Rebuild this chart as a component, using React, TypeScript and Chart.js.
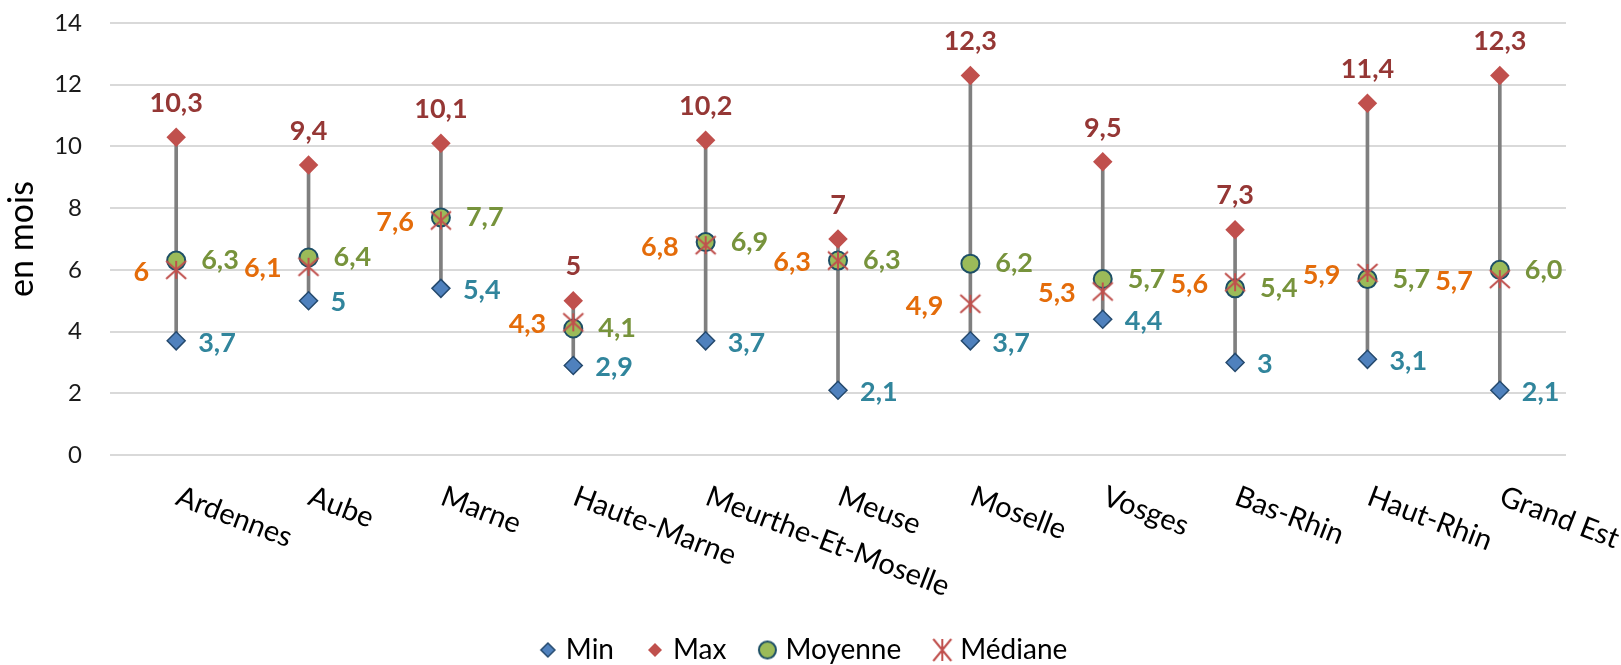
import React, { useEffect, useRef } from 'react';
import { Chart, registerables } from 'chart.js';

Chart.register(...registerables);

const categories = ['Ardennes', 'Aube', 'Marne', 'Haute-Marne', 'Meurthe-Et-Moselle', 'Meuse', 'Moselle', 'Vosges', 'Bas-Rhin', 'Haut-Rhin', 'Grand Est'];
const minValues = [3.7, 5, 5.4, 2.9, 3.7, 2.1, 3.7, 4.4, 3, 3.1, 2.1];
const maxValues = [10.3, 9.4, 10.1, 5, 10.2, 7, 12.3, 9.5, 7.3, 11.4, 12.3];
const meanValues = [6.3, 6.4, 7.7, 4.1, 6.9, 6.3, 6.2, 5.7, 5.4, 5.7, 6.0];
const medianValues = [6, 6.1, 7.6, 4.3, 6.8, 6.3, 4.9, 5.3, 5.6, 5.9, 5.7];
const seriesNames = ['Min', 'Max', 'Moyenne', 'Médiane'];
const yMin = 0;
const yMax = 14;
const yStep = 2;
const yTitle = 'en mois';

const FONT = "Lato, 'DejaVu Sans', sans-serif";

const fmtGeneral = (v: number) => String(v).replace('.', ',');
const fmtFixed = (v: number) => v.toFixed(1).replace('.', ',');

function makeCanvas(w: number, h: number) {
  const c = document.createElement('canvas');
  c.width = w;
  c.height = h;
  return c;
}

function makeStar(hw: number, hh: number, lw: number, color: string) {
  const w = Math.ceil(2 * hw + lw + 2);
  const h = Math.ceil(2 * hh + lw + 2);
  const c = makeCanvas(w, h);
  const g = c.getContext('2d')!;
  g.strokeStyle = color;
  g.lineWidth = lw;
  g.translate(w / 2, h / 2);
  g.beginPath();
  g.moveTo(-hw, -hh);
  g.lineTo(hw, hh);
  g.moveTo(hw, -hh);
  g.lineTo(-hw, hh);
  g.moveTo(0, -hh);
  g.lineTo(0, hh);
  g.stroke();
  return c;
}

function makeDiamond(half: number, fill: string, stroke: string, lw: number) {
  const s = Math.ceil(2 * half + lw + 2);
  const c = makeCanvas(s, s);
  const g = c.getContext('2d')!;
  g.translate(s / 2, s / 2);
  g.beginPath();
  g.moveTo(0, -half);
  g.lineTo(half, 0);
  g.lineTo(0, half);
  g.lineTo(-half, 0);
  g.closePath();
  g.fillStyle = fill;
  g.fill();
  if (lw > 0) {
    g.strokeStyle = stroke;
    g.lineWidth = lw;
    g.stroke();
  }
  return c;
}

function makeCircle(r: number, fill: string, stroke: string, lw: number) {
  const s = Math.ceil(2 * r + lw + 2);
  const c = makeCanvas(s, s);
  const g = c.getContext('2d')!;
  g.translate(s / 2, s / 2);
  g.beginPath();
  g.arc(0, 0, r, 0, Math.PI * 2);
  g.fillStyle = fill;
  g.fill();
  g.strokeStyle = stroke;
  g.lineWidth = lw;
  g.stroke();
  return c;
}

const MIN_FILL = '#4F81BD';
const MIN_BORDER = '#254A6E';
const MAX_FILL = '#C0504D';
const MEAN_FILL = '#9BBB59';
const MEAN_BORDER = '#1D4F66';
const MED_COLOR = '#C0504D';

export default function App() {
  const canvasRef = useRef<HTMLCanvasElement | null>(null);

  useEffect(() => {
    if (!canvasRef.current) return;

    const medianPoint = makeStar(10, 9, 2, MED_COLOR);
    const legendIcons: Record<number, HTMLCanvasElement> = {
      1: makeDiamond(7, MIN_FILL, MIN_BORDER, 1.5),
      2: makeDiamond(7, MAX_FILL, MAX_FILL, 0),
      3: makeCircle(8.5, MEAN_FILL, MEAN_BORDER, 2),
      4: makeStar(9, 11, 2, MED_COLOR),
    };

    const labelSpecs: Record<number, { color: string; align: CanvasTextAlign; dx: number; dy: number; fmt: (v: number) => string }> = {
      1: { color: '#31859C', align: 'left', dx: 22, dy: 2, fmt: fmtGeneral },
      2: { color: '#953735', align: 'center', dx: 0, dy: -34, fmt: fmtGeneral },
      3: { color: '#77933C', align: 'left', dx: 25, dy: 0, fmt: fmtFixed },
      4: { color: '#E46C0A', align: 'right', dx: -27, dy: 2, fmt: fmtGeneral },
    };

    const dataLabelPlugin = {
      id: 'dataLabels',
      afterDatasetsDraw(chart: any) {
        const ctx = chart.ctx;
        ctx.save();
        ctx.font = `bold 27px ${FONT}`;
        ctx.textBaseline = 'middle';
        [1, 2, 3, 4].forEach((di) => {
          const spec = labelSpecs[di];
          const meta = chart.getDatasetMeta(di);
          const values = chart.data.datasets[di].data as number[];
          ctx.fillStyle = spec.color;
          ctx.textAlign = spec.align;
          meta.data.forEach((pt: any, i: number) => {
            ctx.fillText(spec.fmt(values[i]), pt.x + spec.dx, pt.y + spec.dy);
          });
        });
        ctx.restore();
      },
    };

    const xLabelPlugin = {
      id: 'xLabels',
      afterDraw(chart: any) {
        const ctx = chart.ctx;
        const xs = chart.scales.x;
        const baseY = chart.chartArea.bottom + 49;
        ctx.save();
        ctx.font = `29px ${FONT}`;
        ctx.fillStyle = '#000000';
        ctx.textAlign = 'left';
        ctx.textBaseline = 'alphabetic';
        categories.forEach((c, i) => {
          const x = xs.getPixelForValue(i);
          ctx.save();
          ctx.translate(x - 2, baseY);
          ctx.rotate((21 * Math.PI) / 180);
          ctx.fillText(c, 0, 0);
          ctx.restore();
        });
        ctx.restore();
      },
    };

    const legendShiftPlugin = {
      id: 'legendShift',
      afterLayout(chart: any) {
        const lg = chart.legend;
        if (!lg) return;
        lg.left += 22.6;
        lg.right += 22.6;
        lg.top += 9;
        lg.bottom += 9;
      },
    };

    const chart = new Chart(canvasRef.current, {
      type: 'bar',
      data: {
        labels: categories,
        datasets: [
          {
            type: 'bar',
            label: 'range',
            data: minValues.map((v, i) => [v, maxValues[i]]) as any,
            backgroundColor: '#7F7F7F',
            borderWidth: 0,
            barThickness: 3,
            order: 5,
          },
          {
            type: 'line',
            label: seriesNames[0],
            data: minValues,
            showLine: false,
            pointStyle: 'rectRot',
            pointRadius: 9,
            pointBackgroundColor: MIN_FILL,
            pointBorderColor: MIN_BORDER,
            pointBorderWidth: 1.5,
            order: 4,
          },
          {
            type: 'line',
            label: seriesNames[1],
            data: maxValues,
            showLine: false,
            pointStyle: 'rectRot',
            pointRadius: 9.75,
            pointBackgroundColor: MAX_FILL,
            pointBorderColor: MAX_FILL,
            pointBorderWidth: 0,
            order: 3,
          },
          {
            type: 'line',
            label: seriesNames[2],
            data: meanValues,
            showLine: false,
            pointStyle: 'circle',
            pointRadius: 9,
            pointBackgroundColor: MEAN_FILL,
            pointBorderColor: MEAN_BORDER,
            pointBorderWidth: 2,
            order: 2,
          },
          {
            type: 'line',
            label: seriesNames[3],
            data: medianValues,
            showLine: false,
            pointStyle: medianPoint as any,
            pointRadius: 9,
            order: 1,
          },
        ] as any,
      },
      options: {
        animation: false,
        responsive: false,
        events: [],
        layout: { padding: { left: 0, right: 55, top: 23, bottom: 0 } },
        scales: {
          x: {
            type: 'category',
            offset: true,
            grid: { display: false },
            border: { display: false },
            ticks: { display: false },
            afterFit(scale: any) {
              scale.height = 135;
            },
          },
          y: {
            min: yMin,
            max: yMax,
            ticks: {
              stepSize: yStep,
              padding: 28,
              color: '#1a1a1a',
              font: { family: FONT, size: 24 },
            },
            grid: { color: '#D9D9D9', lineWidth: 2, drawTicks: false },
            border: { display: false },
            title: {
              display: true,
              text: yTitle,
              color: '#000000',
              font: { family: FONT, size: 34 },
              padding: { top: 2, bottom: 0 },
            },
            afterFit(scale: any) {
              scale.width = 110;
              scale.paddingTop = 0;
              scale.paddingBottom = 0;
            },
          },
        },
        plugins: {
          tooltip: { enabled: false },
          legend: {
            display: true,
            position: 'bottom',
            labels: {
              usePointStyle: true,
              boxWidth: 8,
              padding: 37,
              color: '#000000',
              font: { family: FONT, size: 28 },
              generateLabels(ch: any) {
                const base = (Chart.defaults.plugins.legend.labels as any).generateLabels(ch);
                return base.map((it: any) => ({ ...it, pointStyle: legendIcons[it.datasetIndex] || it.pointStyle }));
              },
              filter: (item: any) => item.datasetIndex !== 0,
              sort: (a: any, b: any) => a.datasetIndex - b.datasetIndex,
            },
          },
        },
      } as any,
      plugins: [dataLabelPlugin, xLabelPlugin, legendShiftPlugin],
    });

    return () => chart.destroy();
  }, []);

  return (
    <div style={{ position: 'fixed', left: 0, top: 0, width: 1621, height: 665, background: '#ffffff' }}>
      <canvas ref={canvasRef} width={1621} height={665} style={{ display: 'block' }} />
    </div>
  );
}
